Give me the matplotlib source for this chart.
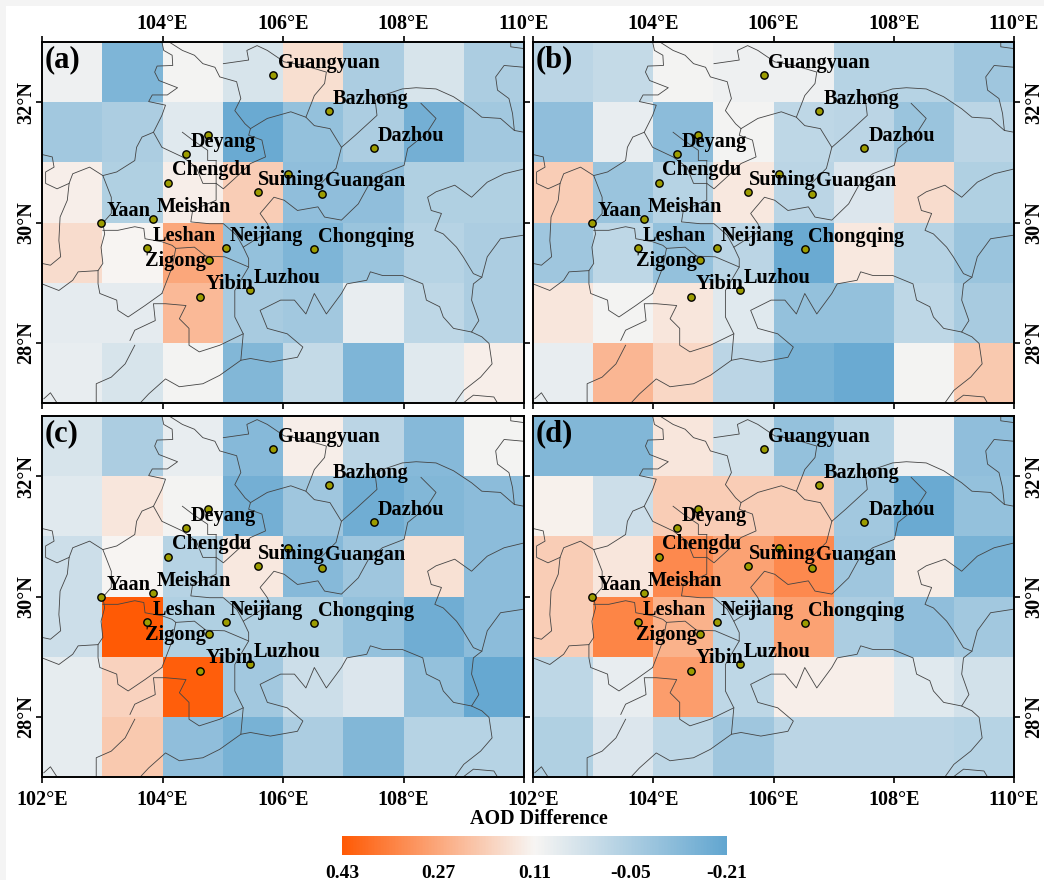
import numpy as np
import matplotlib
matplotlib.use("Agg")
import matplotlib.pyplot as plt
from matplotlib.colors import LinearSegmentedColormap, Normalize
from matplotlib.cm import ScalarMappable
from matplotlib.patches import Rectangle

plt.rcParams["font.family"] = ["Liberation Serif", "DejaVu Serif"]
plt.rcParams["font.weight"] = "bold"

LON_EDGES = [102, 103, 104, 105, 106, 107, 108, 109, 110]
LAT_EDGES = [33, 32, 31, 30, 29, 28, 27]
LON_TICKS = [102, 104, 106, 108, 110]
LAT_TICKS = [28, 30, 32]
LON_LABELS = ["102°E", "104°E", "106°E", "108°E", "110°E"]
LAT_LABELS = ["28°N", "30°N", "32°N"]

# AOD difference per 1 degree cell, rows north to south
panelA = [
    [0.09, -0.15, 0.10, 0.04, 0.155, -0.05, 0.04, -0.05],
    [-0.07, -0.05, 0.06, -0.19, -0.10, -0.05, -0.17, -0.07],
    [0.125, -0.04, 0.125, 0.19, -0.11, -0.11, -0.04, -0.04],
    [0.16, 0.11, 0.27, -0.10, -0.15, -0.09, -0.03, -0.05],
    [0.07, 0.07, 0.235, -0.06, -0.07, 0.08, -0.01, -0.05],
    [0.08, 0.04, 0.10, -0.14, 0.0, -0.15, 0.06, 0.125],
]
panelB = [
    [-0.02, 0.0, 0.10, 0.09, 0.09, -0.03, -0.03, -0.08],
    [-0.11, 0.08, -0.12, 0.10, -0.01, -0.02, -0.09, -0.02],
    [0.19, -0.09, -0.03, 0.135, -0.02, 0.05, 0.16, -0.04],
    [-0.08, -0.01, -0.10, -0.02, -0.19, 0.135, -0.03, -0.09],
    [0.14, 0.10, 0.14, 0.06, -0.10, -0.10, -0.01, -0.06],
    [0.08, 0.24, 0.17, -0.02, -0.16, -0.19, 0.10, 0.20],
]
panelC = [
    [0.04, -0.05, 0.08, -0.13, 0.125, -0.02, -0.13, 0.10],
    [0.06, 0.14, 0.10, -0.17, -0.08, -0.18, -0.14, -0.12],
    [0.02, 0.11, -0.03, 0.135, -0.13, -0.08, 0.15, -0.12],
    [0.02, 0.43, -0.04, -0.04, -0.04, -0.10, -0.18, -0.12],
    [0.075, 0.18, 0.42, -0.07, 0.02, 0.05, -0.10, -0.20],
    [0.075, 0.20, -0.11, -0.16, -0.05, -0.14, -0.03, -0.03],
]
panelD = [
    [-0.14, -0.14, 0.14, 0.03, -0.10, -0.03, 0.09, -0.11],
    [0.12, 0.02, 0.19, 0.19, 0.19, -0.07, -0.19, -0.10],
    [0.19, 0.14, 0.33, 0.28, 0.33, -0.08, 0.13, -0.16],
    [0.19, 0.34, 0.25, -0.02, 0.28, -0.05, -0.11, -0.07],
    [-0.01, 0.08, 0.29, -0.01, 0.125, 0.125, 0.06, 0.03],
    [-0.04, 0.05, -0.01, -0.08, -0.02, -0.02, -0.02, -0.03],
]

CITY_NAMES = ["Guangyuan", "Bazhong", "Dazhou", "Deyang", "Chengdu", "Suining", "Guangan",
              "Yaan", "Meishan", "Leshan", "Neijiang", "Chongqing", "Zigong", "Yibin", "Luzhou"]
CITY_LON = [105.84, 106.76, 107.51, 104.39, 104.09, 105.58, 106.64,
            102.98, 103.84, 103.75, 105.06, 106.52, 104.78, 104.62, 105.45]
CITY_LAT = [32.45, 31.85, 31.23, 31.14, 30.66, 30.51, 30.47,
            29.99, 30.05, 29.57, 29.58, 29.56, 29.37, 28.77, 28.88]
# two more stations have a dot but no name
EXTRA_LON = [104.75, 106.09]
EXTRA_LAT = [31.46, 30.80]
LABEL_LON = [105.91, 106.83, 107.58, 104.47, 104.15, 105.59, 106.70,
             103.07, 103.91, 103.83, 105.12, 106.58, 103.71, 104.71, 105.51]
LABEL_LAT = [32.57, 31.97, 31.35, 31.25, 30.79, 30.62, 30.60,
             30.11, 30.17, 29.69, 29.69, 29.67, 29.27, 28.89, 29.00]

# prefecture borders as (lon, lat)
BORDERS = [
    [(103.99, 33.0), (104.02, 32.86), (104.16, 32.78), (104.17, 32.61), (103.91, 32.60), (103.87, 32.50),
     (103.94, 32.36), (104.25, 32.24), (104.08, 32.12), (103.83, 32.12), (103.77, 32.01), (104.05, 31.95),
     (103.99, 31.78), (103.85, 31.50), (103.66, 31.42), (103.57, 31.25), (103.54, 31.03), (103.24, 30.84),
     (103.01, 30.78), (102.79, 30.92), (102.51, 30.81), (102.45, 30.65), (102.42, 30.37), (102.30, 30.09),
     (102.28, 29.70), (102.31, 29.43), (102.14, 29.29), (102.0, 29.32)],
    [(104.11, 33.0), (104.33, 32.86), (104.53, 32.78), (104.67, 32.64), (104.87, 32.58), (104.95, 32.42),
     (105.23, 32.34), (105.30, 32.06), (105.20, 31.86), (105.37, 31.64), (105.46, 31.56), (105.43, 31.45),
     (105.65, 31.37), (105.71, 31.09), (105.46, 30.98), (105.23, 30.76), (105.01, 30.56), (104.89, 30.65),
     (104.89, 31.03)],
    [(105.01, 32.64), (105.43, 32.70), (105.40, 32.86), (105.57, 32.94), (105.74, 32.86), (106.02, 32.67),
     (106.35, 32.61), (106.72, 32.50), (106.69, 32.31), (106.52, 32.11), (106.49, 32.03), (106.38, 31.75),
     (106.52, 31.61), (106.78, 31.56), (106.97, 31.25), (107.20, 31.45), (107.56, 31.78), (107.53, 32.03),
     (107.65, 32.11), (107.98, 32.22), (108.21, 32.24), (108.54, 32.22), (108.83, 32.09), (109.13, 31.89),
     (109.30, 31.75), (109.61, 31.73), (109.84, 31.53), (110.0, 31.50)],
    [(105.46, 31.56), (105.74, 31.73), (106.13, 31.84), (106.38, 31.75)],
    [(108.29, 31.98), (108.54, 31.73), (108.38, 31.48), (108.07, 31.23), (108.01, 30.95), (107.65, 30.81),
     (107.42, 30.62), (107.25, 30.31), (106.97, 30.04), (106.69, 30.09), (106.58, 30.26), (106.24, 30.20),
     (106.02, 30.37), (105.85, 30.42), (105.62, 30.15), (105.74, 29.98), (105.79, 29.87), (105.34, 29.59),
     (105.43, 29.40), (105.43, 29.26)],
    [(106.97, 31.25), (106.88, 30.90), (106.60, 30.62)],
    [(110.0, 32.58), (109.67, 32.61), (109.53, 32.42), (109.56, 32.20), (109.75, 32.06), (109.81, 31.81),
     (109.84, 31.53)],
    [(109.78, 33.0), (109.78, 32.92), (110.0, 32.89)],
    [(110.0, 30.89), (109.67, 30.81), (109.39, 30.67), (109.13, 30.42), (108.85, 30.62), (108.54, 30.51),
     (108.40, 30.42), (108.46, 30.20), (108.63, 30.15), (108.52, 29.87), (108.66, 29.81), (108.88, 29.59),
     (108.99, 29.43), (109.16, 29.15), (109.30, 29.09), (109.39, 29.43), (109.61, 29.73), (110.0, 29.79)],
    [(109.30, 29.09), (109.16, 28.98), (109.13, 28.71), (109.25, 28.37), (109.13, 28.18), (108.83, 28.24),
     (108.66, 28.43), (108.60, 28.60), (108.38, 28.71), (108.32, 28.98), (107.98, 29.12), (107.65, 29.12),
     (107.45, 29.18), (107.39, 29.04), (107.06, 28.98), (106.97, 28.82), (106.72, 28.48), (106.52, 28.82),
     (106.38, 28.48), (106.19, 28.71), (105.96, 28.71), (105.62, 28.54), (105.74, 28.24), (106.07, 28.15),
     (106.33, 27.93), (106.24, 27.76), (105.79, 27.68), (105.46, 27.74), (105.30, 27.71), (105.34, 28.15),
     (105.20, 28.43), (105.20, 28.87), (105.43, 29.26), (105.29, 29.32), (105.03, 29.43), (104.72, 29.44),
     (104.53, 29.59), (104.22, 29.57), (104.16, 29.26), (103.99, 28.82)],
    [(109.13, 28.18), (109.30, 28.10), (109.42, 27.99), (109.47, 27.65), (109.28, 27.43), (109.0, 27.21),
     (108.85, 27.0)],
    [(108.99, 27.0), (109.16, 27.13), (109.50, 27.10), (109.56, 27.0)],
    [(103.54, 27.96), (103.38, 27.65), (103.15, 27.43), (102.90, 27.32), (102.90, 27.0)],
    [(103.63, 27.0), (103.77, 27.15), (104.05, 27.40), (104.28, 27.27), (104.67, 27.32), (104.95, 27.46),
     (105.30, 27.71)],
    [(102.03, 27.07), (102.14, 27.17), (102.25, 27.0)],
    [(103.46, 28.04), (103.54, 28.21), (103.88, 28.37), (103.85, 28.65), (104.05, 28.65), (104.39, 28.62),
     (104.28, 28.40), (104.44, 28.24), (104.44, 27.96), (104.61, 27.85), (104.95, 27.96), (105.34, 28.15)],
    [(102.93, 29.20), (102.93, 28.98), (102.96, 28.82), (103.24, 28.71), (103.26, 28.54), (103.43, 28.43),
     (103.71, 28.62), (103.99, 28.82)],
    [(103.01, 30.78), (103.15, 30.42), (103.15, 30.15), (103.01, 29.99), (103.04, 29.81), (102.98, 29.59),
     (103.01, 29.32), (102.93, 29.20), (102.60, 29.18), (102.51, 29.04), (102.28, 28.87), (102.0, 28.98)],
    [(102.0, 31.13), (102.17, 31.09), (102.20, 30.92), (102.06, 30.84), (102.06, 30.65), (102.25, 30.56),
     (102.45, 30.65)],
    [(103.01, 29.87), (103.26, 29.87), (103.54, 29.93), (103.69, 29.90), (103.71, 29.73), (103.99, 29.68),
     (104.16, 29.62), (104.22, 29.57)],
    [(104.33, 31.50), (104.50, 31.37), (104.75, 31.20), (104.75, 31.03), (104.89, 31.03)],
    [(103.85, 31.50), (103.99, 31.25), (104.16, 31.17), (104.33, 31.09), (104.56, 30.92), (104.67, 30.65),
     (104.89, 30.65)],
    [(104.89, 30.65), (104.89, 30.37), (104.50, 30.20), (104.47, 30.01), (104.78, 29.98), (105.01, 29.98),
     (105.23, 29.79), (105.34, 29.59)],
]

VMIN = -0.21
VMAX = 0.43
CBAR_TICKS = [0.43, 0.27, 0.11, -0.05, -0.21]

WIDTH = 1044
HEIGHT = 880

aodCmap = LinearSegmentedColormap.from_list("aod", ["#62A6D0", "#F7F5F3", "#FF5A05"])
aodNorm = Normalize(VMIN, VMAX)


# pixel box of the reference to figure fractions
def makeAxes(fig, left, top, right, bottom):
    return fig.add_axes([left / WIDTH, 1 - bottom / HEIGHT, (right - left) / WIDTH, (bottom - top) / HEIGHT])


def drawPanel(ax, values, letter, lonShown, latSide, topRow):
    ax.pcolormesh(LON_EDGES, LAT_EDGES, np.array(values), cmap=aodCmap, norm=aodNorm, linewidth=0, rasterized=True)
    for border in BORDERS:
        lon, lat = zip(*border)
        ax.plot(lon, lat, color="#444444", lw=0.6, solid_joinstyle="round")
    ax.scatter(CITY_LON + EXTRA_LON, CITY_LAT + EXTRA_LAT, s=28, color="#9C9C00", edgecolor="black", linewidth=1, zorder=3)
    for name, x, y in zip(CITY_NAMES, LABEL_LON, LABEL_LAT):
        ax.text(x, y, name, fontsize=14.6, fontweight="bold", color="black", ha="left", va="baseline", zorder=4)
    ax.text(102.05, 32.7, letter, fontsize=22, fontweight="bold", ha="left", va="center", zorder=4)

    ax.set_xlim(102, 110)
    ax.set_ylim(27, 33)

    ax.set_xticks(LON_TICKS)
    ax.set_xticklabels([lab if tick in lonShown else "" for tick, lab in zip(LON_TICKS, LON_LABELS)], fontsize=14.5, fontweight="bold")
    ax.set_yticks(LAT_TICKS)
    ax.set_yticklabels(LAT_LABELS, fontsize=14.5, fontweight="bold", rotation=90, va="center")
    ax.tick_params(axis="x", direction="out", length=4, width=1.2, pad=2 if topRow else 5,
                   top=topRow, bottom=True, labeltop=topRow, labelbottom=not topRow)
    ax.tick_params(axis="y", direction="out", length=4, width=1.2, pad=0 if latSide == "left" else 3,
                   left=latSide == "left", right=True,
                   labelleft=latSide == "left", labelright=latSide == "right")
    for spine in ax.spines.values():
        spine.set_linewidth(1.4)


def main():
    fig = plt.figure(figsize=(WIDTH / 100, HEIGHT / 100), dpi=100)
    # pale page edge along the top and left of the picture
    fig.add_artist(Rectangle((0, 1 - 6 / HEIGHT), 1, 6 / HEIGHT, transform=fig.transFigure, color="#F4F4F4", lw=0))
    fig.add_artist(Rectangle((0, 0), 6 / WIDTH, 1, transform=fig.transFigure, color="#F4F4F4", lw=0))

    axA = makeAxes(fig, 42, 42, 524, 403)
    axB = makeAxes(fig, 533, 42, 1014, 403)
    axC = makeAxes(fig, 42, 416, 524, 777)
    axD = makeAxes(fig, 533, 416, 1014, 777)

    drawPanel(axA, panelA, "(a)", [104, 106, 108, 110], "left", True)
    drawPanel(axB, panelB, "(b)", [104, 106, 108, 110], "right", True)
    drawPanel(axC, panelC, "(c)", [102, 104, 106, 108], "left", False)
    drawPanel(axD, panelD, "(d)", [102, 104, 106, 108, 110], "right", False)

    fig.text(539 / WIDTH, 1 - 819 / HEIGHT, "AOD Difference", fontsize=14.4, fontweight="bold", ha="center", va="center")

    cax = makeAxes(fig, 342, 836, 727, 855)
    cbar = fig.colorbar(ScalarMappable(norm=aodNorm, cmap=aodCmap), cax=cax, orientation="horizontal", ticks=CBAR_TICKS)
    cax.invert_xaxis()
    cbar.ax.set_xticklabels(["%.2f" % t for t in CBAR_TICKS], fontsize=14, fontweight="bold")
    cbar.ax.tick_params(length=0, pad=7)
    cbar.outline.set_visible(False)

    fig.savefig("out.png", dpi=100)


main()
